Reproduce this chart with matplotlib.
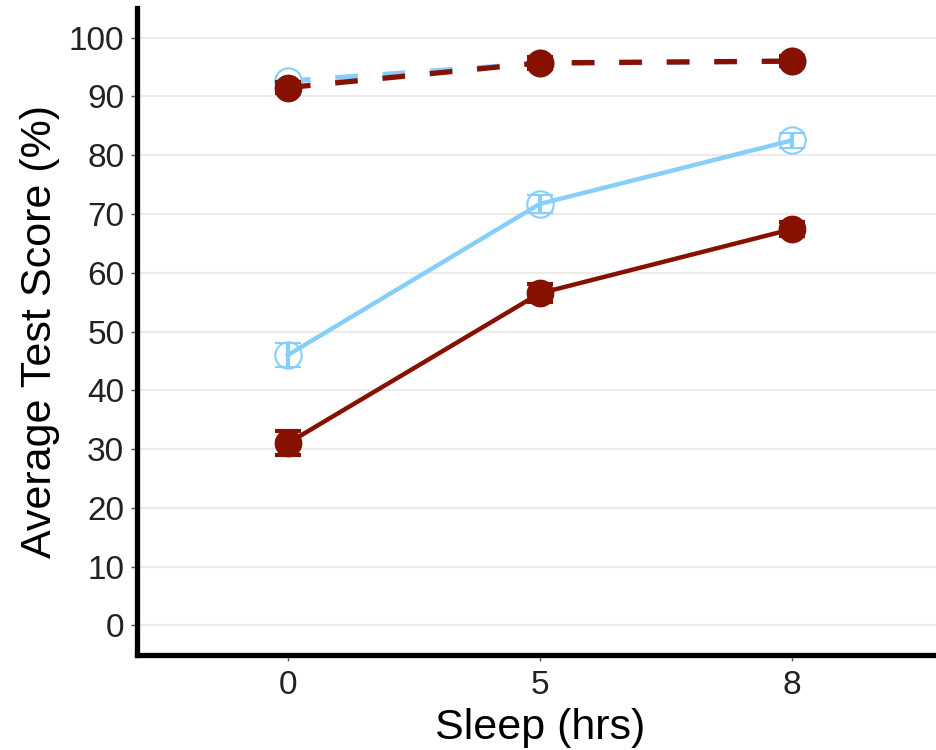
import matplotlib.pyplot as plt
import numpy as np

plt.rcParams['font.family'] = ['Liberation Sans', 'DejaVu Sans']

sleep_labels = ['0', '5', '8']

# series values (mean test score, %)
red_dashed = [91.5, 95.7, 96.0]
blue_dashed = [92.6, 95.6, 96.0]
blue_solid = [46.0, 71.7, 82.5]
red_solid = [31.0, 56.5, 67.4]

# error bar half-widths
red_dashed_err = [1.0, 1.0, 0.8]
blue_dashed_err = [0.8, 0.8, 0.6]
blue_solid_err = [2.0, 1.5, 1.3]
red_solid_err = [2.0, 1.5, 1.2]

RED = '#861100'
BLUE = '#87CEFA'

fig = plt.figure(figsize=(9.37, 7.5), dpi=100)
ax = fig.add_axes([0.146, 0.127, 0.86, 0.862])

x = np.arange(len(sleep_labels))

ax.errorbar(x, blue_dashed, yerr=blue_dashed_err, color=BLUE, lw=3.8,
            ls=(0, (4.3, 4.7)), marker='o', ms=19, mfc='white', mec=BLUE,
            mew=1.5, capsize=9.5, capthick=3, elinewidth=3, zorder=3)
ax.errorbar(x, red_dashed, yerr=red_dashed_err, color=RED, lw=3.8,
            ls=(0, (4.3, 4.7)), marker='o', ms=19, mfc=RED, mec=RED,
            capsize=9.5, capthick=3, elinewidth=3, zorder=4)
ax.errorbar(x, blue_solid, yerr=blue_solid_err, color=BLUE, lw=3.2,
            marker='o', ms=19, mfc='none', mec=BLUE, mew=1.5,
            capsize=9.5, capthick=3, elinewidth=3, zorder=3)
ax.errorbar(x, red_solid, yerr=red_solid_err, color=RED, lw=3.2,
            marker='o', ms=19, mfc=RED, mec=RED,
            capsize=9.5, capthick=3, elinewidth=3, zorder=4)

ax.set_xlim(-0.6, 2.6)
ax.set_ylim(-5, 105)
ax.set_xticks(x)
ax.set_xticklabels(sleep_labels)
ax.set_yticks(np.arange(0, 101, 10))

ax.yaxis.grid(True, color='#EBEBEB', lw=1.5)
ax.set_axisbelow(True)

for side in ['top', 'right']:
    ax.spines[side].set_visible(False)
for side in ['left', 'bottom']:
    ax.spines[side].set_linewidth(3.8)
    ax.spines[side].set_color('black')

ax.tick_params(axis='both', labelsize=24, length=4, width=1,
               color='#555555', labelcolor='#222222', pad=5)
ax.tick_params(axis='x', pad=7)

ax.set_xlabel('Sleep (hrs)', fontsize=31, labelpad=5)
ax.set_ylabel('Average Test Score (%)', fontsize=31, labelpad=6)

fig.savefig('out.png', dpi=100)
